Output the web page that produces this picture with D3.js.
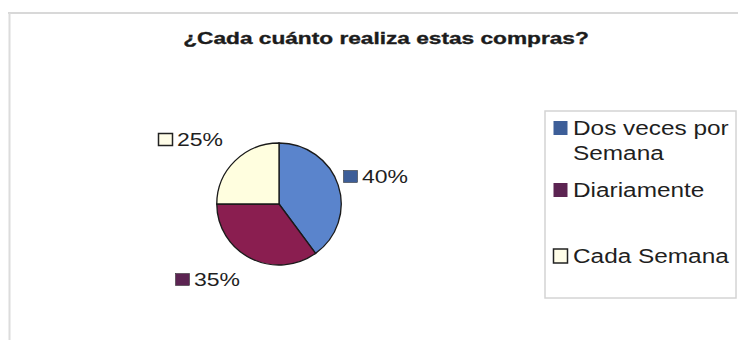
<!DOCTYPE html>
<html>
<head>
<meta charset="utf-8">
<script src="https://cdn.jsdelivr.net/npm/d3@7/dist/d3.min.js"></script>
<style>
  html, body { margin: 0; padding: 0; background: #fff; }
  svg { display: block; font-family: "Liberation Sans", Arial, Helvetica, sans-serif; }
</style>
</head>
<body>
<svg id="chart" width="738" height="340"></svg>
<script>
// Frecuencia de compra (porcentaje de respuestas)
const categories = ["Dos veces por Semana", "Diariamente", "Cada Semana"];
const legendLines = [["Dos veces por", "Semana"], ["Diariamente"], ["Cada Semana"]];
const values = [40, 35, 25];
const colors = ["#5a84cc", "#8a1e50", "#fffedf"];
const swatchColors = ["#3d5e98", "#5c2452", "#fffde8"];
const title = "¿Cada cuánto realiza estas compras?";

const svg = d3.select("#chart");

// Marco del área del gráfico
svg.append("line").attr("x1", 8).attr("x2", 738).attr("y1", 13).attr("y2", 13)
  .attr("stroke", "#d8d8d8").attr("stroke-width", 2);
svg.append("line").attr("x1", 9.5).attr("x2", 9.5).attr("y1", 13).attr("y2", 340)
  .attr("stroke", "#dcdcdc").attr("stroke-width", 2);

// Título (tipografía ancha)
svg.append("text")
  .attr("transform", "translate(386,44) scale(1.35,1)")
  .attr("text-anchor", "middle")
  .attr("font-size", 16.8).attr("font-weight", "bold")
  .attr("fill", "#1c1c1c").attr("stroke", "#1c1c1c").attr("stroke-width", 0.35)
  .text(title);

// Pastel
const cx = 279, cy = 204, r = 61;
const pie = d3.pie().sort(null).value(d => d)(values);
const arc = d3.arc().innerRadius(0).outerRadius(r);
const g = svg.append("g").attr("transform", `translate(${cx},${cy}) scale(1.02,1)`);
g.selectAll("path").data(pie).join("path")
  .attr("d", arc)
  .attr("fill", (d, i) => colors[i])
  .attr("stroke", "#1a1a1a").attr("stroke-width", 1.3);

// Etiquetas de porcentaje
const labelPos = [[343, 183], [175, 286], [158, 146]];
const lab = svg.append("g").selectAll("g").data(pie).join("g")
  .attr("transform", (d, i) => `translate(${labelPos[i][0]},${labelPos[i][1]})`);
lab.append("rect")
  .attr("x", 0.5).attr("y", -12.5).attr("width", 14).attr("height", 12)
  .attr("fill", (d, i) => swatchColors[i])
  .attr("stroke", "#222").attr("stroke-width", (d, i) => i === 2 ? 1.5 : 0.5);
lab.append("text")
  .attr("transform", "translate(19,0) scale(1.3,1)")
  .attr("font-size", 17.7).attr("fill", "#1f1f1f")
  .text(d => d.data + "%");

// Leyenda
svg.append("rect").attr("x", 545).attr("y", 111).attr("width", 191).attr("height", 187)
  .attr("fill", "#fff").attr("stroke", "#d4d4d4").attr("stroke-width", 1.5);
const legendY = [135, 197, 263];
const leg = svg.append("g").selectAll("g").data(categories).join("g")
  .attr("transform", (d, i) => `translate(553,${legendY[i]})`);
leg.append("rect")
  .attr("x", 0.5).attr("y", -14).attr("width", 14).attr("height", 14)
  .attr("fill", (d, i) => swatchColors[i])
  .attr("stroke", "#222").attr("stroke-width", (d, i) => i === 2 ? 1.5 : 0);
leg.append("text")
  .attr("transform", "translate(20,0) scale(1.25,1)")
  .attr("font-size", 19.5).attr("fill", "#1f1f1f")
  .selectAll("tspan").data((d, i) => legendLines[i]).join("tspan")
  .attr("x", 0).attr("dy", (d, j) => j === 0 ? 0 : 25)
  .text(d => d);
</script>
</body>
</html>
